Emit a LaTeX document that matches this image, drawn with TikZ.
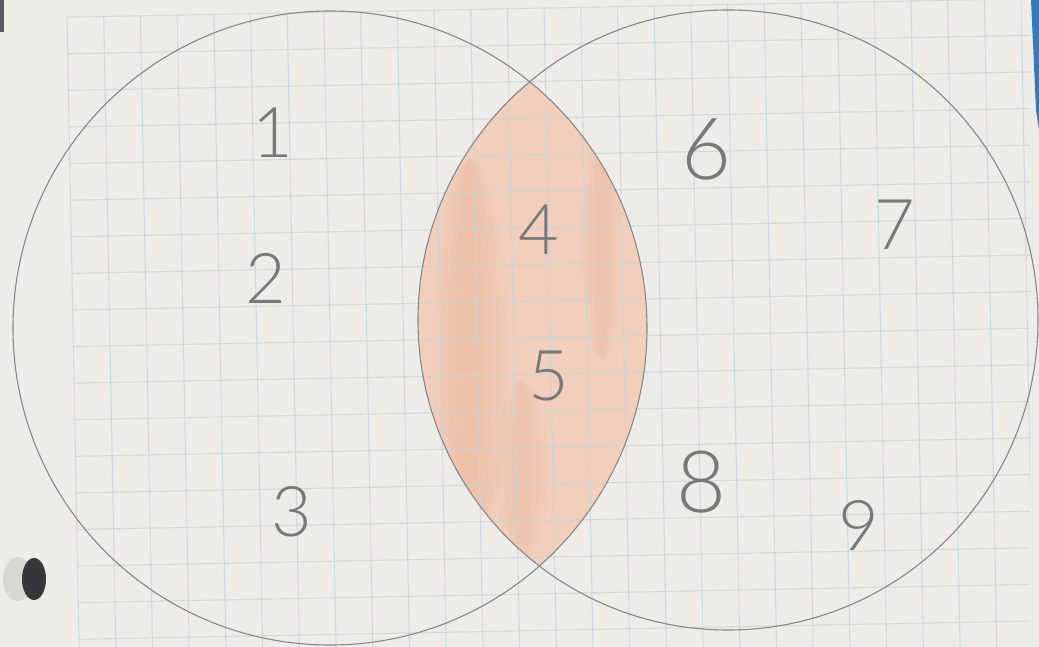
\documentclass[tikz,border=0pt]{standalone}
\usepackage{fontspec}
\newfontfamily\digitfont{Lato Light}
\definecolor{paper}{RGB}{237,236,233}
\definecolor{gridc}{RGB}{202,213,217}
\definecolor{pencil}{RGB}{135,135,135}
\definecolor{digitc}{RGB}{120,120,120}
\definecolor{lensc}{RGB}{241,207,188}
\definecolor{lensdark}{RGB}{236,168,135}
\definecolor{holec}{RGB}{55,55,58}
\definecolor{holerim}{RGB}{215,215,212}
\definecolor{bluestrip}{RGB}{45,125,195}
\tikzset{
  gridline/.style={draw=gridc, line width=1.1pt, opacity=0.8},
  circleline/.style={draw=pencil, line width=1.1pt},
  digit/.style={text=digitc, inner sep=0pt, font=\digitfont\fontsize{70}{70}\selectfont},
  bigdigit/.style={digit, font=\digitfont\fontsize{86}{86}\selectfont},
  streak/.style={fill=lensdark, opacity=0.09}
}
\begin{document}
\begin{tikzpicture}[x=1pt,y=-1pt]
\useasboundingbox (0,0) rectangle (1039,647);
\fill[paper] (0,0) rectangle (1039,647);
% coloured lens
\begin{scope}
  \clip (330,328) circle (317);
  \clip (728,320) circle (310);
  \fill[lensc] (400,0) rectangle (700,647);
  \foreach \w in {14,22,30,38}
    \fill[streak] (470,360) ellipse (\w pt and 200pt);
  \foreach \w in {8,14,20}
    \fill[streak] (602,240) ellipse (\w pt and 120pt);
  \foreach \w in {10,18,26}
    \fill[streak] (522,470) ellipse (\w pt and 90pt);
\end{scope}
% grid paper
\begin{scope}
  \clip (0,0) rectangle (1030,647);
  \begin{scope}[rotate=1.1]
    \foreach \i in {0,...,26}
      \draw[gridline] ({66.7+36.7*\i},18.5) -- ({66.7+36.7*\i},700);
    \foreach \j in {0,...,18}
      \draw[gridline] (66.7,{18.5+36.6*\j}) -- (1060,{18.5+36.6*\j});
  \end{scope}
\end{scope}
% circles
\node[circleline, circle, minimum size=634pt, inner sep=0pt] (setA) at (330,328) {};
\node[circleline, circle, minimum size=620pt, inner sep=0pt] (setB) at (728,320) {};
% numbers
\node[digit] (n1) at (273,133) {1};
\node[digit] (n2) at (266,278) {2};
\node[digit] (n3) at (292,512) {3};
\node[digit] (n4) at (539,230) {4};
\node[digit] (n5) at (549,376) {5};
\node[bigdigit] (n6) at (706,149) {6};
\node[digit] (n7) at (895,225) {7};
\node[bigdigit] (n8) at (701,482) {8};
\node[digit] (n9) at (859,525) {9};
% binder hole, corner and edge
\fill[holerim] (18,579) ellipse (15 and 22);
\fill[holec] (34,579) ellipse (12 and 21);
\fill[holec, opacity=0.8] (0,0) rectangle (4,32);
\fill[bluestrip] (1031,0) -- (1039,0) -- (1039,130) -- (1036,110) -- cycle;
\end{tikzpicture}
\end{document}
